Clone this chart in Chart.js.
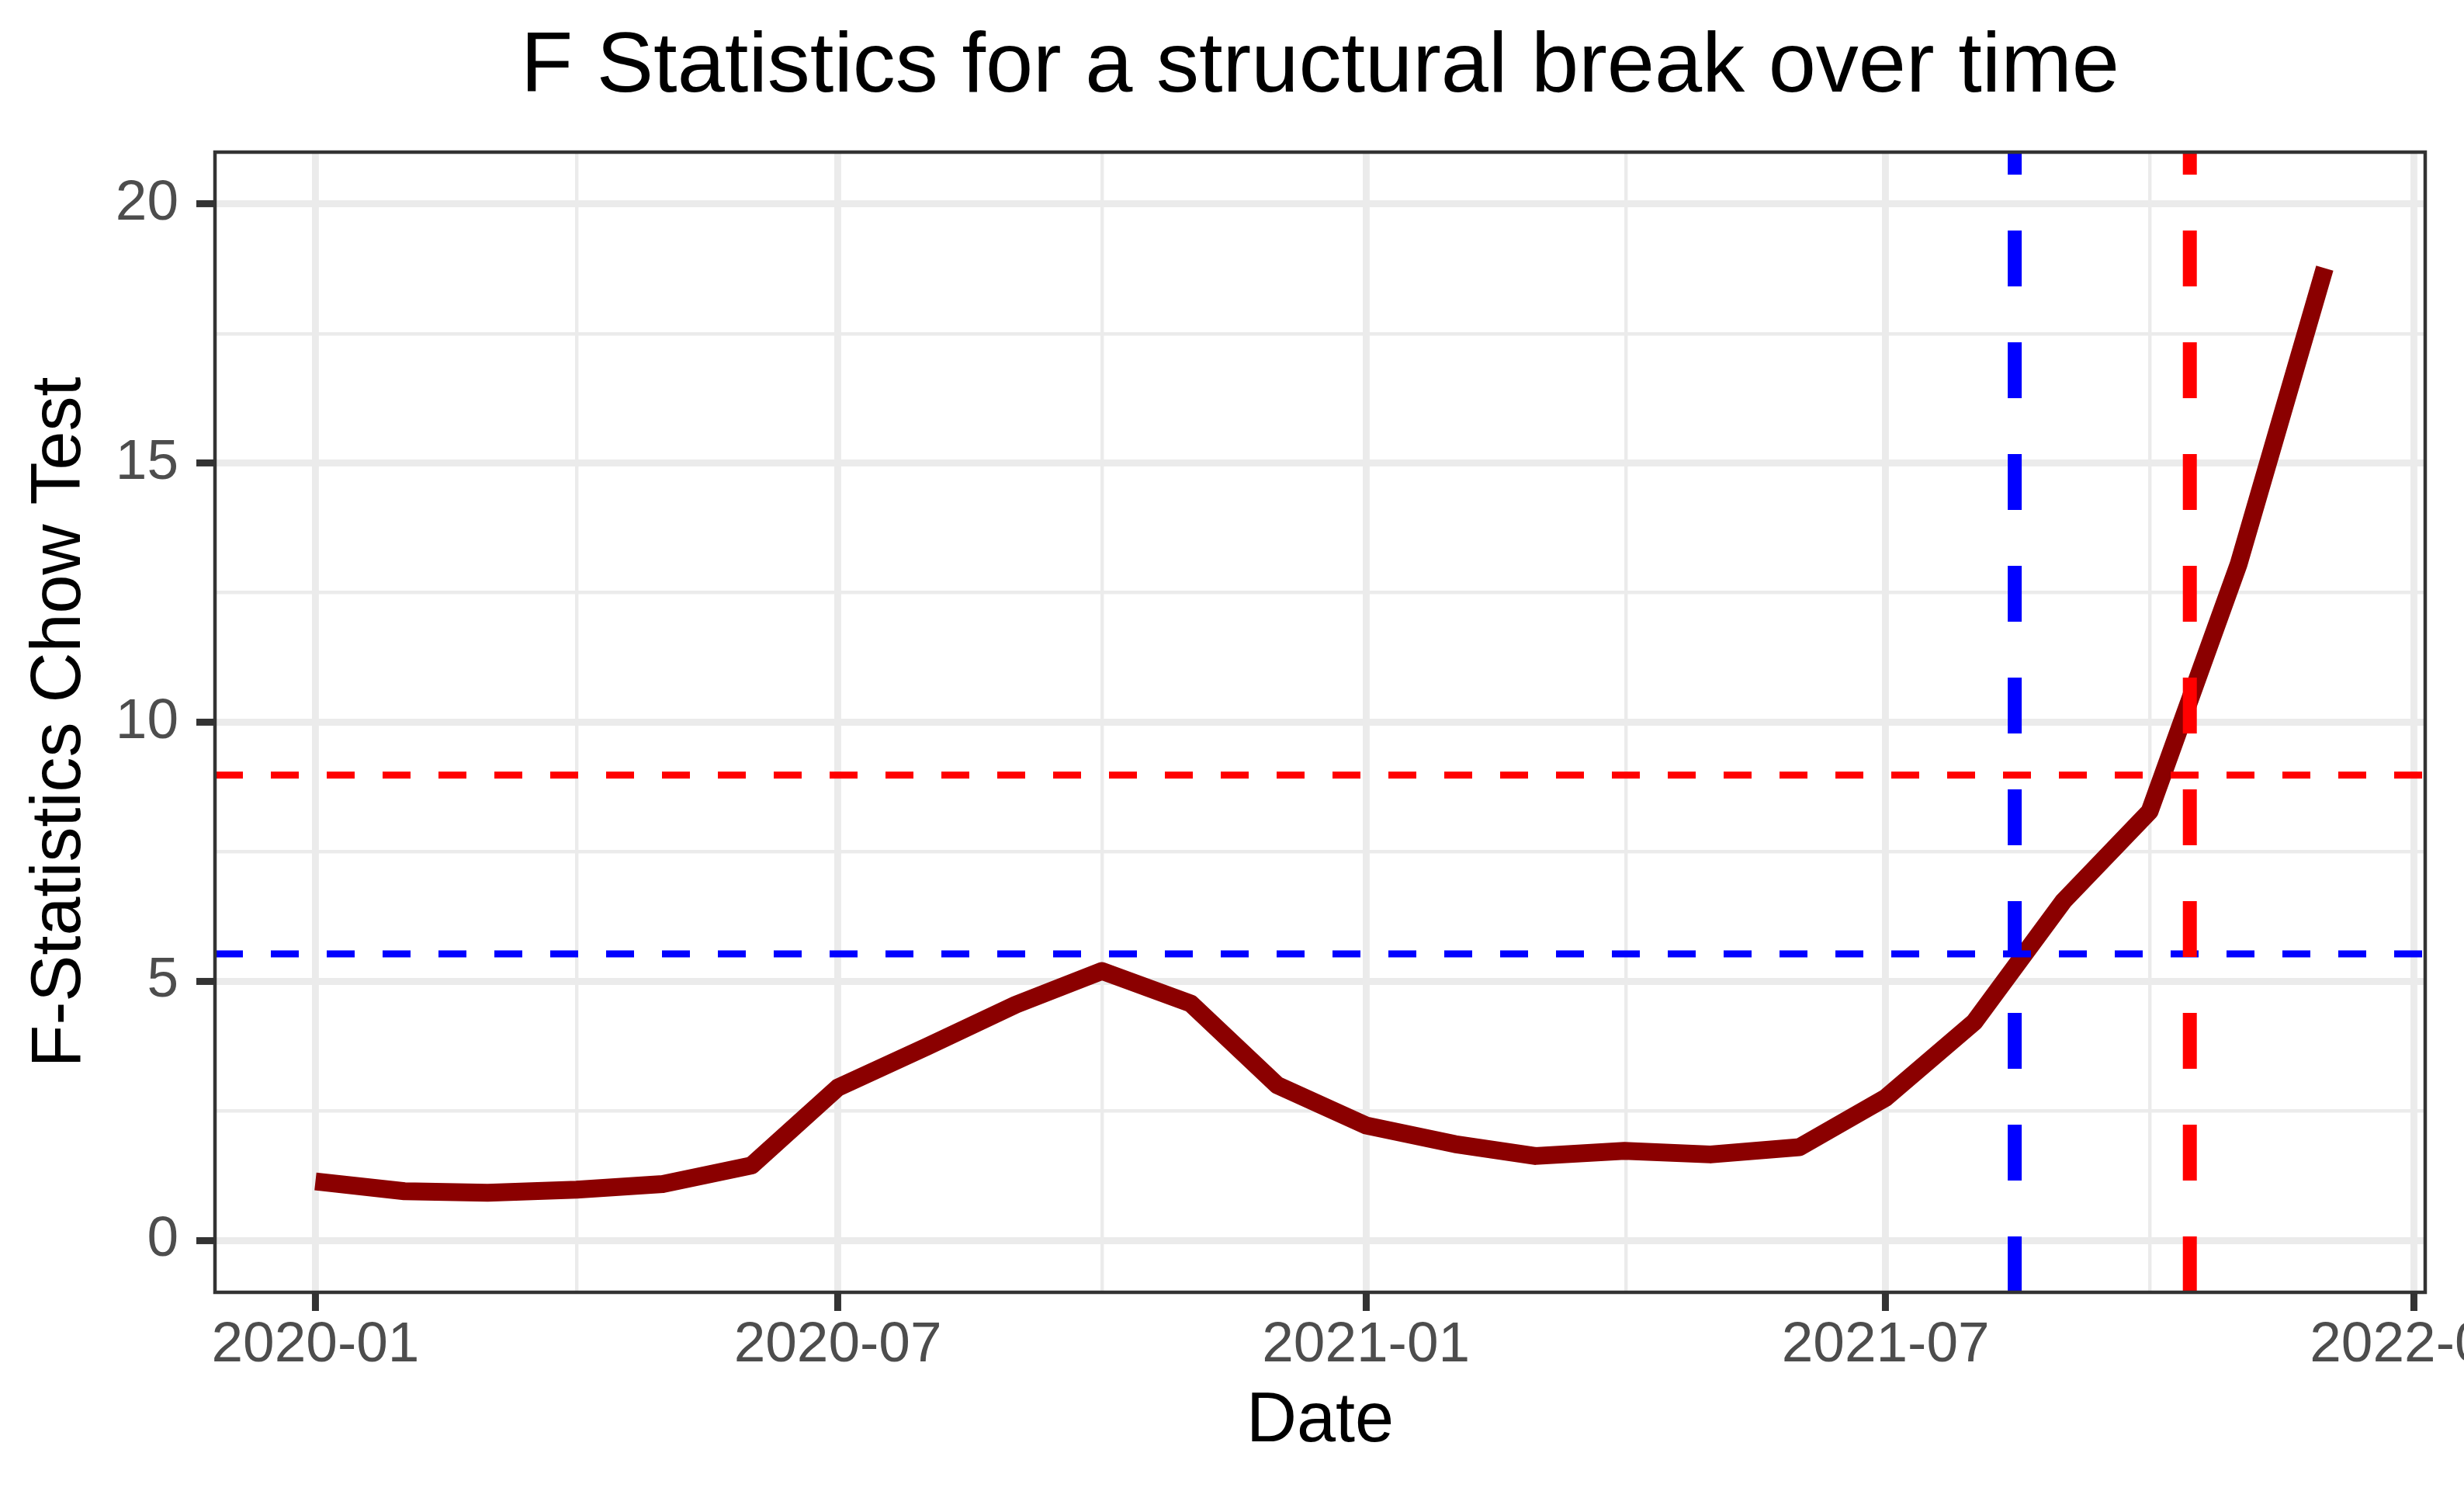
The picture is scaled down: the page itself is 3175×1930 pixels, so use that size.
<!DOCTYPE html>
<html>
<head>
<meta charset="utf-8">
<title>F Statistics for a structural break over time</title>
<script src="https://cdn.jsdelivr.net/npm/chart.js@4.4.0/dist/chart.umd.min.js"></script>
<style>
  html, body { margin: 0; padding: 0; background: #ffffff; }
  canvas { display: block; }
</style>
</head>
<body>
<canvas id="chowChart" width="3175" height="1930"></canvas>
<script>
// Monthly F statistics of the Chow test
const dates = ['2020-01-01', '2020-02-01', '2020-03-01', '2020-04-01', '2020-05-01', '2020-06-01',
               '2020-07-01', '2020-08-01', '2020-09-01', '2020-10-01', '2020-11-01', '2020-12-01',
               '2021-01-01', '2021-02-01', '2021-03-01', '2021-04-01', '2021-05-01', '2021-06-01',
               '2021-07-01', '2021-08-01', '2021-09-01', '2021-10-01', '2021-11-01', '2021-12-01'];
const fStats = [1.14, 0.95, 0.92, 0.98, 1.09, 1.45,
                2.95, 3.74, 4.55, 5.20, 4.57, 3.00,
                2.22, 1.86, 1.63, 1.73, 1.66, 1.80,
                2.75, 4.22, 6.55, 8.28, 13.05, 18.76];

// critical values (horizontal dashed lines)
const critValues = [5.53, 8.98];
const critColors = ['#0000FF', '#FF0000'];

// break dates (vertical dashed lines)
const breakDates = ['2021-08-15', '2021-10-15'];
const breakColors = ['#0000FF', '#FF0000'];

// axes
const xTickDates = ['2020-01-01', '2020-07-01', '2021-01-01', '2021-07-01', '2022-01-01'];
const xTickLabels = ['2020-01', '2020-07', '2021-01', '2021-07', '2022-01'];
const yTicks = [0, 5, 10, 15, 20];
const yLimits = [0, 20];

// dates as day numbers
const toDay = s => Date.parse(s + 'T00:00:00Z') / 86400000;

const xDays = dates.map(toDay);
const xMajor = xTickDates.map(toDay);

// ggplot style 5% expansion
const xSpan = xDays[xDays.length - 1] - xDays[0];
const xMin = xDays[0] - 0.05 * xSpan;
const xMax = xDays[xDays.length - 1] + 0.05 * xSpan;
const ySpan = yLimits[1] - yLimits[0];
const yMin = yLimits[0] - 0.05 * ySpan;
const yMax = yLimits[1] + 0.05 * ySpan;

// major + minor (midpoint) ticks
function withMinor(major, lo, hi) {
    let out = [];
    major.forEach((v, i) => {
        if (i > 0) out.push({ value: (major[i - 1] + v) / 2, isMinor: true });
        out.push({ value: v, isMinor: false });
    });
    return out.filter(t => t.value >= lo && t.value <= hi);
}

const gridColor = '#EBEBEB';
const axisDark = '#333333';
const labelGrey = '#4D4D4D';

const datasets = [];

datasets.push({
    label: 'F statistic',
    data: xDays.map((d, i) => ({ x: d, y: fStats[i] })),
    borderColor: '#8B0000',
    borderWidth: 23,
    borderCapStyle: 'butt',
    borderJoinStyle: 'round',
    pointRadius: 0,
    tension: 0,
    order: 3
});

critValues.forEach((v, i) => {
    datasets.push({
        data: [{ x: xMin, y: v }, { x: xMax, y: v }],
        borderColor: critColors[i],
        borderWidth: 9,
        borderDash: [36, 36],
        borderCapStyle: 'butt',
        pointRadius: 0,
        clip: 0,
        order: 2
    });
});

breakDates.forEach((d, i) => {
    datasets.push({
        data: [{ x: toDay(d), y: yMin }, { x: toDay(d), y: yMax }],
        borderColor: breakColors[i],
        borderWidth: 18,
        borderDash: [72, 72],
        borderCapStyle: 'butt',
        pointRadius: 0,
        clip: 0,
        order: 1
    });
});

// panel border like theme_bw
const panelBorder = {
    id: 'panelBorder',
    afterDatasetsDraw(chart) {
        const a = chart.chartArea;
        const ctx = chart.ctx;
        ctx.save();
        ctx.strokeStyle = axisDark;
        ctx.lineWidth = 4.5;
        ctx.strokeRect(a.left, a.top, a.right - a.left, a.bottom - a.top);
        ctx.restore();
    }
};

function noPad(s) {
    s.paddingLeft = 0;
    s.paddingRight = 0;
    s.paddingTop = 0;
    s.paddingBottom = 0;
}

Chart.defaults.font.family = "'Liberation Sans', Arial, sans-serif";

const chowChart = new Chart(document.getElementById('chowChart'), {
    type: 'line',
    data: { datasets: datasets },
    plugins: [panelBorder],
    options: {
        responsive: false,
        animation: false,
        devicePixelRatio: 1,
        layout: { padding: { left: 0, right: 50, top: 0, bottom: 0 } },
        plugins: {
            legend: { display: false },
            tooltip: { enabled: false },
            title: {
                display: true,
                text: 'F Statistics for a structural break over time',
                fullSize: false,
                color: '#000000',
                font: { size: 110, weight: 'normal', lineHeight: 1.2 },
                padding: { top: 22, bottom: 42 }
            }
        },
        scales: {
            x: {
                type: 'linear',
                min: xMin,
                max: xMax,
                afterBuildTicks: s => { s.ticks = withMinor(xMajor, xMin, xMax); },
                afterFit: s => { s.height = 265; noPad(s); },
                border: { display: false },
                grid: {
                    color: gridColor,
                    lineWidth: c => (c.tick && c.tick.isMinor) ? 4.4 : 8.9,
                    tickColor: c => (c.tick && c.tick.isMinor) ? 'rgba(0,0,0,0)' : axisDark,
                    tickWidth: 9,
                    tickLength: 24
                },
                ticks: {
                    autoSkip: false,
                    maxRotation: 0,
                    minRotation: 0,
                    padding: 1,
                    color: labelGrey,
                    font: { size: 73 },
                    callback: (v, i, ticks) => {
                        if (ticks[i].isMinor) return '';
                        const k = xMajor.indexOf(v);
                        return k >= 0 ? xTickLabels[k] : '';
                    }
                },
                title: {
                    display: true,
                    text: 'Date',
                    color: '#000000',
                    font: { size: 90, lineHeight: 1.2 },
                    padding: { top: 0, bottom: 44 }
                }
            },
            y: {
                type: 'linear',
                min: yMin,
                max: yMax,
                afterBuildTicks: s => { s.ticks = withMinor(yTicks, yMin, yMax); },
                afterFit: s => { s.width = 277; noPad(s); },
                border: { display: false },
                grid: {
                    color: gridColor,
                    lineWidth: c => (c.tick && c.tick.isMinor) ? 4.4 : 8.9,
                    tickColor: c => (c.tick && c.tick.isMinor) ? 'rgba(0,0,0,0)' : axisDark,
                    tickWidth: 9,
                    tickLength: 24
                },
                ticks: {
                    padding: 23,
                    color: labelGrey,
                    font: { size: 73 },
                    callback: (v, i, ticks) => ticks[i].isMinor ? '' : String(v)
                },
                title: {
                    display: true,
                    text: 'F-Statistics Chow Test',
                    color: '#000000',
                    font: { size: 90, lineHeight: 1.2 },
                    padding: { top: 24, bottom: 0 }
                }
            }
        }
    }
});
</script>
</body>
</html>
